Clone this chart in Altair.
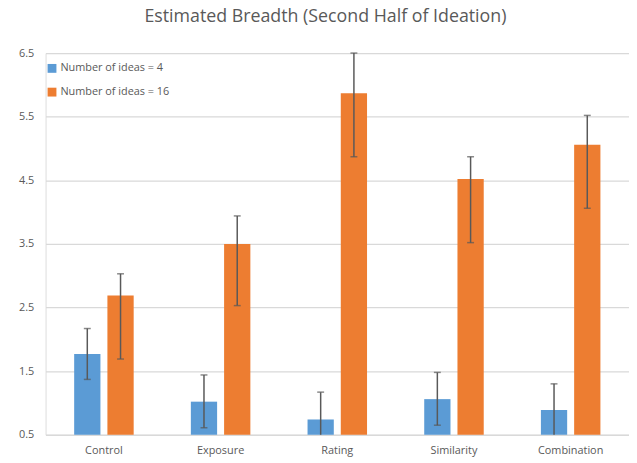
import altair as alt
import pandas as pd

categories = ["Control", "Exposure", "Rating", "Similarity", "Combination"]
series = ["Number of ideas = 4", "Number of ideas = 16"]
mean4 = [1.77, 1.02, 0.74, 1.06, 0.89]
low4 = [1.37, 0.61, 0.31, 0.65, 0.48]
high4 = [2.17, 1.44, 1.17, 1.48, 1.30]
mean16 = [2.69, 3.50, 5.87, 4.52, 5.06]
low16 = [1.69, 2.53, 4.87, 3.52, 4.06]
high16 = [3.03, 3.94, 6.50, 4.87, 5.52]
y_ticks = [0.5, 1.5, 2.5, 3.5, 4.5, 5.5, 6.5]

rows = []
for i, c in enumerate(categories):
    rows.append({"cat": c, "series": series[0], "mean": mean4[i], "low": low4[i], "high": high4[i]})
    rows.append({"cat": c, "series": series[1], "mean": mean16[i], "low": low16[i], "high": high16[i]})
df = pd.DataFrame(rows)

FONT = "Open Sans, sans-serif"
TXT = "#595959"

x = alt.X("cat:N", sort=categories, title=None,
          scale=alt.Scale(paddingInner=0.49, paddingOuter=0.245),
          axis=alt.Axis(labelAngle=0, labelFont=FONT, labelFontSize=11, labelColor=TXT,
                        labelPadding=10, ticks=False, domain=False))
xo = alt.XOffset("series:N", sort=series,
                 scale=alt.Scale(domain=series, paddingInner=0.21, paddingOuter=0))
yscale = alt.Scale(domain=[0.5, 6.5], zero=False, nice=False)

base = alt.Chart(df)

bars = base.mark_bar().encode(
    x=x, xOffset=xo,
    y=alt.Y("mean:Q", scale=yscale, title=None,
            axis=alt.Axis(values=y_ticks, format=".1f", labelFont=FONT, labelFontSize=11,
                          labelColor=TXT, labelPadding=12, ticks=False, domain=False,
                          grid=True, gridColor="#d9d9d9", gridWidth=1.3)),
    y2=alt.datum(0.5),
    color=alt.Color("series:N", sort=series,
                    scale=alt.Scale(domain=series, range=["#5B9BD5", "#ED7D31"]),
                    legend=alt.Legend(title=None, orient="none", legendX=1, legendY=10,
                                      symbolType="square", symbolSize=80, symbolStrokeWidth=0,
                                      labelFont=FONT, labelFontSize=11, labelColor=TXT,
                                      rowPadding=12, labelOffset=3)),
)

rules = base.mark_rule(color="#595959", strokeWidth=1.5, clip=True).encode(
    x=x, xOffset=xo, y=alt.Y("low:Q", scale=yscale), y2="high:Q")

caps_hi = base.mark_tick(color="#595959", orient="horizontal", size=7, thickness=1.5).encode(
    x=x, xOffset=xo, y=alt.Y("high:Q", scale=yscale))
caps_lo = base.transform_filter("datum.low >= 0.5").mark_tick(
    color="#595959", orient="horizontal", size=7, thickness=1.5).encode(
    x=x, xOffset=xo, y=alt.Y("low:Q", scale=yscale))

chart = alt.layer(bars, rules, caps_hi, caps_lo).properties(
    width=590, height=386,
    autosize=alt.AutoSizeParams(type="none"),
    padding={"left": 38, "top": 43, "right": 0, "bottom": 26},
    title=alt.Title("Estimated Breadth (Second Half of Ideation)", font=FONT, fontSize=18,
                    fontWeight="normal", color=TXT, anchor="middle", dx=-12, offset=21),
).configure_view(stroke=None).configure(background="white")

chart.save("out.html", embed_options={"renderer": "svg", "actions": False})
